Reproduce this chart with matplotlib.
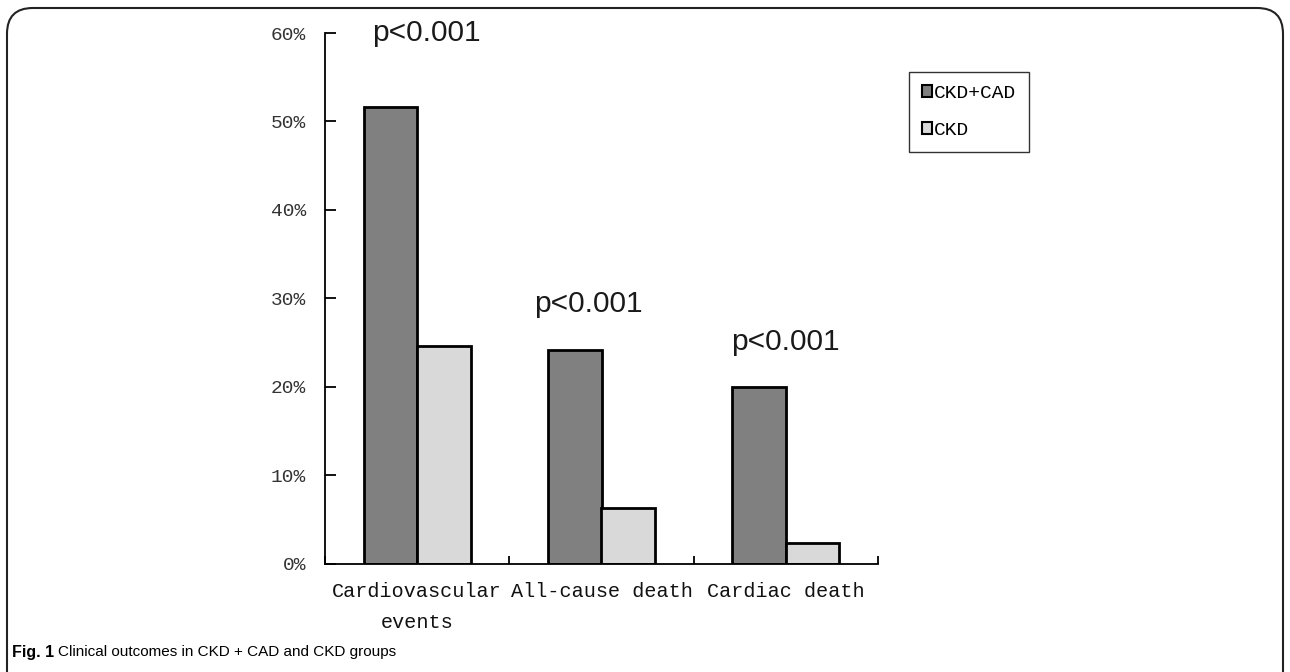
import numpy as np
import matplotlib
matplotlib.use("Agg")
import matplotlib.pyplot as plt
from matplotlib.patches import FancyBboxPatch, Patch

# values (fractions)
categories = ["Cardiovascular\nevents", "All-cause death", "Cardiac death"]
ckd_cad = [0.516, 0.241, 0.200]
ckd = [0.246, 0.063, 0.023]
p_labels = ["p<0.001", "p<0.001", "p<0.001"]
p_y = [0.600, 0.293, 0.251]
p_dx = [0.05, -0.07, 0.0]
y_ticks = [0.0, 0.1, 0.2, 0.3, 0.4, 0.5, 0.6]
y_ticklabels = ["0%", "10%", "20%", "30%", "40%", "50%", "60%"]
series_names = ["CKD+CAD", "CKD"]

W, H = 1290, 672
fig = plt.figure(figsize=(W / 100, H / 100), dpi=100)
ax = fig.add_axes([325 / W, 1 - 563.5 / H, (878 - 325) / W, (563.5 - 33) / H])

x = np.arange(len(categories))
bw = 0.29
dark, light = "#808080", "#d9d9d9"
ax.bar(x - bw / 2, ckd_cad, bw, color=dark, edgecolor="black", linewidth=2, label=series_names[0])
ax.bar(x + bw / 2, ckd, bw, color=light, edgecolor="black", linewidth=2, label=series_names[1])

for xi, dx, yy, s in zip(x, p_dx, p_y, p_labels):
    ax.text(xi + dx, yy, s, ha="center", va="center", fontsize=21.5,
            family="Liberation Sans", color="#1a1a1a")

ax.set_xlim(-0.5, len(categories) - 0.5)
ax.set_ylim(0, 0.6)
ax.spines["top"].set_visible(False)
ax.spines["right"].set_visible(False)
for sp in ("left", "bottom"):
    ax.spines[sp].set_linewidth(1.3)

ax.set_yticks(y_ticks)
ax.set_yticklabels(y_ticklabels, family="Liberation Mono", fontsize=14, color="#333333")
ax.tick_params(axis="y", direction="in", length=8, width=1.3, pad=13.5)

# boundary ticks on x-axis, category names as minor labels
ax.set_xticks(np.arange(len(categories) + 1) - 0.5)
ax.set_xticklabels([])
ax.tick_params(axis="x", which="major", direction="in", length=6, width=1.3)
ax.set_xticks(x, minor=True)
ax.set_xticklabels(categories, minor=True, family="Liberation Mono", fontsize=14.5,
                   linespacing=1.8, color="#111111")
ax.tick_params(axis="x", which="minor", length=0, pad=13)

handles = [Patch(facecolor=dark, edgecolor="black", linewidth=1.5),
           Patch(facecolor=light, edgecolor="black", linewidth=1.5)]
leg = fig.legend(handles, series_names, loc="upper left",
                 bbox_to_anchor=(909 / W, 1 - 72 / H),
                 prop={"family": "Liberation Mono", "size": 14},
                 frameon=True, fancybox=False, edgecolor="black",
                 handlelength=0.55, handleheight=0.55, handletextpad=0.1,
                 labelspacing=1.05, borderpad=0.65, borderaxespad=0)
leg.get_frame().set_linewidth(1.0)

# rounded panel border, open at the bottom
border = FancyBboxPatch((7 / W, -0.2), (1283 - 7) / W, (1 - 8 / H) + 0.2,
                        boxstyle="round,pad=0,rounding_size=0.02",
                        transform=fig.transFigure, fill=False,
                        edgecolor="#222222", linewidth=1.5, mutation_aspect=W / H)
fig.patches.append(border)

fig.text(12 / W, 1 - 652 / H, "Fig. 1", fontweight="bold", fontsize=11.5,
         family="Liberation Sans", va="center", ha="left")
fig.text(58 / W, 1 - 652 / H, "Clinical outcomes in CKD + CAD and CKD groups", fontsize=11,
         family="Liberation Sans", va="center", ha="left")

fig.savefig("out.png", dpi=100)
